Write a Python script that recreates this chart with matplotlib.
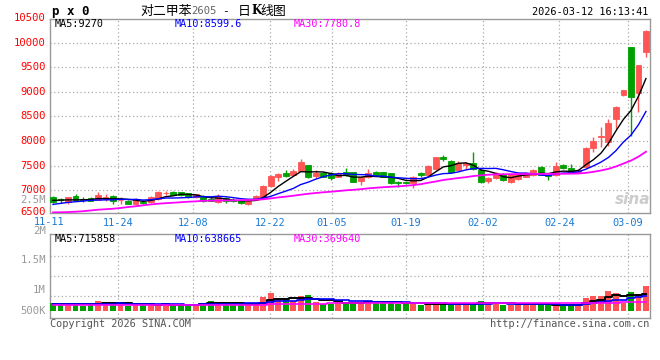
import matplotlib
matplotlib.use('Agg')
import matplotlib.pyplot as plt
import matplotlib.transforms as mtransforms
import numpy as np

# K线数据 (2025-11-11 .. 2026-03-12)
opens = [6858, 6815, 6749, 6878, 6824, 6844, 6803, 6810, 6885, 6790,
         6783, 6708, 6763, 6749, 6810, 6940, 6966, 6960, 6932, 6850,
         6877, 6823, 6755, 6843, 6796, 6789, 6714, 6796, 6864, 7088,
         7271, 7353, 7305, 7393, 7509, 7292, 7346, 7340, 7272, 7360,
         7360, 7190, 7272, 7360, 7360, 7340, 7170, 7170, 7136, 7340,
         7306, 7428, 7679, 7591, 7408, 7509, 7543, 7408, 7183, 7238,
         7326, 7170, 7231, 7272, 7306, 7475, 7306, 7306, 7509, 7441,
         7353, 7462, 7863, 8073, 7985, 8446, 8935, 9920, 8983, 9804]
highs = [6870, 6835, 6865, 6926, 6858, 6864, 6960, 6926, 6895, 6858,
         6790, 6830, 6797, 6870, 6975, 6973, 6975, 6966, 6940, 6930,
         6895, 6850, 6918, 6850, 6830, 6795, 6790, 6897, 7102, 7300,
         7340, 7407, 7420, 7630, 7515, 7407, 7373, 7360, 7370, 7441,
         7370, 7270, 7427, 7380, 7370, 7345, 7190, 7180, 7290, 7374,
         7510, 7670, 7720, 7610, 7590, 7580, 7767, 7420, 7258, 7374,
         7345, 7330, 7340, 7365, 7420, 7490, 7320, 7564, 7540, 7523,
         7420, 7880, 8087, 8277, 8453, 8711, 9040, 9920, 9550, 10250]
lows = [6740, 6745, 6715, 6790, 6756, 6770, 6790, 6776, 6715, 6715,
        6715, 6700, 6708, 6740, 6800, 6905, 6890, 6880, 6840, 6840,
        6760, 6770, 6745, 6728, 6755, 6720, 6700, 6790, 6850, 7070,
        7190, 7271, 7290, 7380, 7250, 7250, 7265, 7200, 7260, 7280,
        7160, 7102, 7250, 7290, 7260, 7130, 7068, 7120, 7034, 7272,
        7300, 7400, 7600, 7360, 7400, 7420, 7410, 7140, 7149, 7220,
        7180, 7136, 7210, 7260, 7290, 7300, 7204, 7290, 7430, 7340,
        7340, 7450, 7774, 7883, 7896, 8236, 8915, 8100, 8596, 9716]
closes = [6763, 6795, 6858, 6797, 6797, 6783, 6898, 6851, 6783, 6800,
          6722, 6817, 6729, 6865, 6966, 6950, 6898, 6891, 6851, 6918,
          6782, 6782, 6850, 6769, 6776, 6735, 6775, 6884, 7081, 7291,
          7332, 7292, 7387, 7570, 7271, 7339, 7271, 7240, 7340, 7306,
          7170, 7258, 7340, 7306, 7272, 7136, 7136, 7140, 7258, 7306,
          7496, 7666, 7632, 7374, 7557, 7543, 7421, 7156, 7238, 7340,
          7204, 7319, 7326, 7353, 7408, 7306, 7280, 7496, 7441, 7374,
          7408, 7863, 8005, 8100, 8372, 8684, 9037, 8901, 9546, 10239]

ma5 = [6790, 6795, 6800, 6800, 6802, 6806, 6827, 6825, 6822, 6823,
       6811, 6795, 6770, 6787, 6820, 6865, 6882, 6914, 6911, 6902,
       6868, 6845, 6837, 6820, 6792, 6782, 6781, 6788, 6850, 6953,
       7073, 7176, 7277, 7374, 7370, 7372, 7368, 7338, 7292, 7299,
       7265, 7263, 7283, 7276, 7269, 7262, 7238, 7198, 7188, 7195,
       7267, 7373, 7472, 7495, 7545, 7554, 7505, 7410, 7383, 7340,
       7272, 7251, 7285, 7308, 7322, 7342, 7335, 7369, 7386, 7379,
       7400, 7516, 7618, 7750, 7950, 8205, 8440, 8619, 8908, 9270]
ma10 = [6708, 6729, 6749, 6763, 6775, 6790, 6797, 6800, 6802, 6812,
        6808, 6811, 6797, 6804, 6821, 6838, 6838, 6842, 6849, 6861,
        6866, 6863, 6875, 6865, 6847, 6825, 6813, 6812, 6835, 6872,
        6927, 6978, 7032, 7112, 7161, 7222, 7272, 7307, 7333, 7334,
        7318, 7315, 7310, 7284, 7284, 7263, 7250, 7240, 7232, 7232,
        7264, 7305, 7335, 7341, 7370, 7410, 7439, 7441, 7439, 7442,
        7413, 7378, 7347, 7345, 7331, 7307, 7293, 7327, 7347, 7350,
        7371, 7425, 7493, 7568, 7664, 7802, 7978, 8118, 8329, 8600]
ma30 = [6545, 6548, 6552, 6559, 6570, 6585, 6600, 6610, 6620, 6635,
        6655, 6670, 6690, 6708, 6722, 6733, 6742, 6752, 6763, 6770,
        6782, 6784, 6786, 6788, 6790, 6794, 6797, 6803, 6812, 6830,
        6850, 6866, 6885, 6905, 6925, 6940, 6955, 6966, 6980, 6995,
        7005, 7018, 7035, 7047, 7058, 7067, 7075, 7088, 7101, 7120,
        7149, 7175, 7205, 7225, 7245, 7262, 7285, 7300, 7312, 7320,
        7322, 7324, 7326, 7327, 7328, 7329, 7330, 7330, 7332, 7334,
        7337, 7350, 7372, 7398, 7432, 7480, 7540, 7600, 7680, 7781]

# 成交量 (千手)
volume = [330, 244, 330, 330, 200, 230, 415, 372, 372, 287,
          200, 244, 330, 272, 244, 244, 200, 287, 287, 287,
          287, 415, 372, 287, 287, 287, 287, 287, 601, 759,
          501, 458, 415, 644, 673, 372, 287, 287, 386, 372,
          372, 330, 415, 330, 372, 372, 287, 287, 372, 244,
          244, 330, 287, 287, 287, 287, 287, 415, 330, 330,
          244, 244, 287, 330, 244, 244, 244, 244, 244, 287,
          287, 544, 630, 630, 844, 759, 330, 816, 716, 1059]
vol_ma5 = [290, 290, 290, 287, 287, 267, 301, 309, 318, 335,
           329, 295, 287, 267, 258, 267, 258, 249, 252, 261,
           270, 313, 330, 330, 330, 330, 304, 287, 350, 444,
           487, 521, 547, 555, 538, 512, 478, 453, 401, 341,
           341, 349, 375, 364, 364, 364, 355, 330, 338, 312,
           287, 295, 295, 278, 287, 296, 287, 313, 321, 330,
           321, 313, 287, 287, 270, 270, 270, 261, 244, 253,
           261, 321, 398, 476, 587, 681, 639, 676, 693, 716]
vol_ma10 = [280, 280, 282, 284, 285, 287, 290, 295, 300, 311,
            298, 298, 298, 293, 297, 298, 277, 268, 260, 260,
            269, 286, 290, 291, 296, 300, 309, 309, 340, 387,
            409, 413, 417, 453, 491, 500, 500, 500, 478, 440,
            427, 414, 414, 383, 353, 353, 352, 353, 351, 338,
            326, 325, 313, 308, 300, 292, 291, 304, 300, 309,
            309, 300, 300, 304, 300, 296, 292, 274, 266, 262,
            266, 296, 330, 360, 420, 471, 480, 537, 585, 639]
vol_ma30 = [236, 236, 237, 237, 238, 238, 239, 240, 241, 241,
            242, 242, 243, 243, 243, 244, 244, 245, 245, 246,
            246, 247, 247, 248, 248, 249, 250, 251, 258, 268,
            276, 282, 287, 292, 298, 303, 306, 309, 311, 313,
            315, 316, 317, 318, 319, 320, 320, 321, 321, 321,
            321, 320, 320, 319, 319, 318, 318, 318, 319, 320,
            320, 320, 320, 321, 321, 322, 323, 324, 326, 328,
            330, 334, 338, 341, 346, 350, 352, 357, 362, 370]

date_labels = ['11-24', '12-08', '12-22', '01-05', '01-19', '02-02', '02-24', '03-09']
price_labels = [10500, 10000, 9500, 9000, 8500, 8000, 7500, 7000, 6500]
vol_labels = ['2M', '1.5M', '1M', '500K']

RED = '#ff5555'
GREEN = '#00a000'
GRID = '#aaaaaa'
MONO = 'DejaVu Sans Mono'
W, H = 660, 360


def fx(px):
    return px / W


def fy(py):
    return 1 - py / H


fig = plt.figure(figsize=(6.6, 3.6), dpi=100)
fig.patch.set_facecolor('white')
ax = fig.add_axes([fx(50), fy(213.3), 600 / W, (213.3 - 19) / H])
axv = fig.add_axes([fx(50), fy(318.3), 600 / W, (318.3 - 234.3) / H])

o = np.array(opens, float)
c = np.array(closes, float)
x = np.arange(len(c))
cols = np.where(c >= o, RED, GREEN)

# 蜡烛图
ax.vlines(x, lows, highs, colors=cols, lw=1, zorder=3)
ax.bar(x, np.abs(c - o), bottom=np.minimum(o, c), width=0.78, color=cols,
       edgecolor=cols, linewidth=0.6, zorder=4)
ax.plot(x, ma5, color='black', lw=1, zorder=5)
ax.plot(x, ma10, color='#0000ff', lw=1, zorder=5)
ax.plot(x, ma30, color='#ff00ff', lw=1.3, zorder=5)

# 网格位置 (Sina 的竖线与K线略有偏移)
grid_x = [8.62, 18.70, 28.95, 37.16, 47.03, 57.25, 67.45, 76.56]

for a in (ax, axv):
    a.set_xlim(-0.4, 79.54)
    a.set_xticks(grid_x)
    a.tick_params(length=0)
    for s in a.spines.values():
        s.set_color('#999999')
        s.set_linewidth(1)
    a.grid(True, color=GRID, linestyle=(0, (1, 2)), linewidth=0.9)
    a.set_axisbelow(True)

ax.set_ylim(6527, 10483)
ax.set_yticks([7000, 7500, 8000, 8500, 9000, 9500, 10000])
ax.set_yticklabels([])
ax.set_xticklabels(date_labels, color='#1a7ad4', family=MONO, fontsize=7.4)
ax.tick_params(axis='x', pad=3.5)
trans = mtransforms.blended_transform_factory(ax.transAxes, ax.transData)
for v in price_labels:
    yv = 6555 if v == 6500 else v
    ax.text(-0.007, yv, str(v), transform=trans, ha='right', va='center',
            color='red', family=MONO, fontsize=7.6, clip_on=False)
ax.text(-0.007, 6796, '2.5M', transform=trans, ha='right', va='center',
        color='#999999', family=MONO, fontsize=7.6, clip_on=False)
ax.text(-0.5, 6527 - (9.0 / 194.3) * 3956, '11-11', ha='center', va='center',
        color='#1a7ad4', family=MONO, fontsize=7.4, clip_on=False)

# 成交量
vol = np.array(volume) * 1000
axv.bar(x, vol, width=0.78, color=cols, linewidth=0, zorder=3)
axv.plot(x, np.array(vol_ma5) * 1000, color='black', lw=1.4, drawstyle='steps-mid', zorder=4)
axv.plot(x, np.array(vol_ma10) * 1000, color='#0000ff', lw=1.2, drawstyle='steps-mid', zorder=4)
axv.plot(x, np.array(vol_ma30) * 1000, color='#ff00ff', lw=1.2, drawstyle='steps-mid', zorder=4)
axv.set_ylim(-326000, 3278000)
axv.set_yticks([643500, 1501000, 2359000])
axv.set_yticklabels([])
axv.set_xticklabels([])
tv = mtransforms.blended_transform_factory(axv.transAxes, axv.transData)
for lab, v in zip(vol_labels, [3419000, 2175000, 888000, -13000]):
    axv.text(-0.007, v, lab, transform=tv, ha='right', va='center',
             color='#999999', family=MONO, fontsize=7.6, clip_on=False)

# 标题与图例
fig.text(fx(52), fy(11), 'p x 0', family=MONO, fontweight='bold', fontsize=9,
         va='center', ha='left')
fig.text(fx(140), fy(11), '对二甲苯', family=['Noto Sans CJK SC', 'DejaVu Sans'],
         fontsize=9.3, va='center', ha='left')
fig.text(fx(191), fy(11.5), '2605', family=MONO, color='#666666', fontsize=7.6,
         va='center', ha='left')
fig.text(fx(222), fy(11), '-', family=MONO, fontsize=8, va='center', ha='left')
fig.text(fx(238), fy(11), '日', family=['Noto Sans CJK SC', 'DejaVu Sans'],
         fontsize=9.3, va='center', ha='left')
fig.text(fx(251), fy(11), 'K', family='DejaVu Serif', fontweight='bold',
         fontsize=8.5, va='center', ha='left')
fig.text(fx(260), fy(11), '线图', family=['Noto Sans CJK SC', 'DejaVu Sans'],
         fontsize=9.3, va='center', ha='left')
fig.text(fx(648), fy(12), '2026-03-12 16:13:41', family=MONO, fontsize=7.4,
         va='center', ha='right')

fig.text(fx(55), fy(24), 'MA5:9270', family=MONO, fontsize=7.3, va='center', color='black')
fig.text(fx(175), fy(24), 'MA10:8599.6', family=MONO, fontsize=7.3, va='center', color='#0000ff')
fig.text(fx(294), fy(24), 'MA30:7780.8', family=MONO, fontsize=7.3, va='center', color='#ff00ff')

fig.text(fx(55), fy(239), 'MA5:715858', family=MONO, fontsize=7.3, va='center', color='black')
fig.text(fx(175), fy(239), 'MA10:638665', family=MONO, fontsize=7.3, va='center', color='#0000ff')
fig.text(fx(294), fy(239), 'MA30:369640', family=MONO, fontsize=7.3, va='center', color='#ff00ff')

fig.text(fx(50), fy(324), 'Copyright 2026 SINA.COM', family=MONO, fontsize=7.4,
         va='center', ha='left', color='#555555')
fig.text(fx(649), fy(324), 'http://finance.sina.com.cn', family=MONO, fontsize=7.4,
         va='center', ha='right', color='#555555')

# 水印
fig.text(fx(633), fy(199), 'sina', fontsize=11, fontstyle='italic', fontweight='bold',
         color='#cccccc', ha='center', va='center', zorder=1)

fig.savefig('out.png', dpi=100, facecolor='white')
